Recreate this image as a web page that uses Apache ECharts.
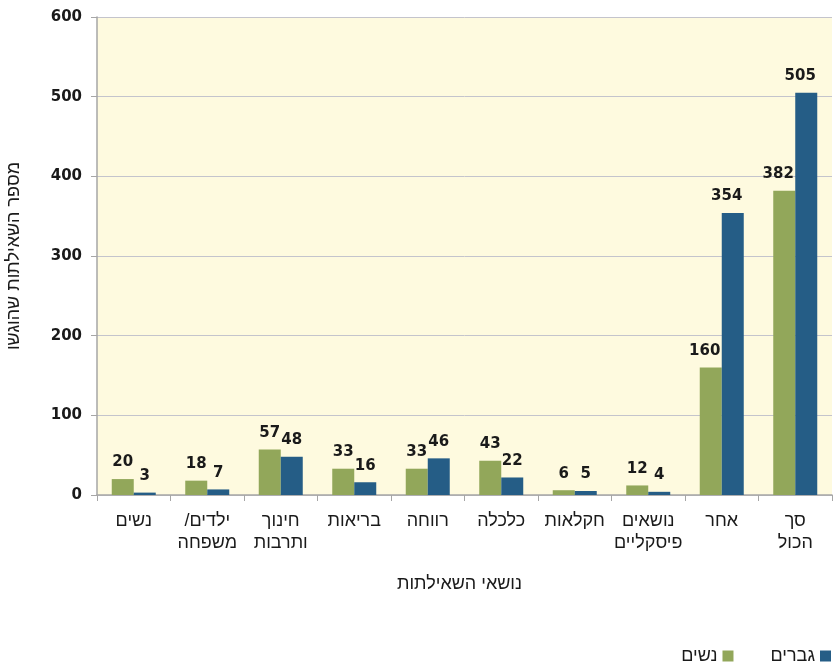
<!DOCTYPE html>
<html><head><meta charset="utf-8">
<script src="https://cdn.jsdelivr.net/npm/echarts@6/dist/echarts.min.js"></script>
<style>html,body{margin:0;padding:0;background:#fff}#c{width:833px;height:669px}</style>
</head><body><div id="c"></div>
<script>
const categories = ['נשים','/ילדים\nמשפחה','חינוך\nותרבות','בריאות','רווחה','כלכלה','חקלאות','נושאים\nפיסקליים','אחר','סך\nהכול'];
const women = [20,18,57,33,33,43,6,12,160,382];
const men = [3,7,48,16,46,22,5,4,354,505];
const yTicks = [0,100,200,300,400,500,600];
const HFONT = '"Liberation Sans",Arial,sans-serif';
const NFONT = '"DejaVu Sans",sans-serif';
const chart = echarts.init(document.getElementById('c'));
const lbl = {show:true,position:'top',distance:9,fontFamily:NFONT,fontSize:15,fontWeight:'bold',color:'#1a1a1a'};
const mk = arr => arr.map(v => v >= 100 ? {value:v,label:{offset:[-6,0]}} : v);
chart.setOption({
  animation:false,
  grid:{left:97,right:1,top:17,bottom:174,show:true,backgroundColor:'#fefadf',borderWidth:0,outerBoundsMode:'none',containLabel:false},
  legend:{data:['נשים','גברים'],right:2,bottom:4,padding:0,itemWidth:11,itemHeight:11,itemGap:37,align:'right',
    icon:'rect',textStyle:{fontFamily:HFONT,fontSize:18,color:'#1a1a1a'}},
  xAxis:{type:'category',data:categories,
    name:'נושאי השאילתות',nameLocation:'middle',nameGap:80,
    nameTextStyle:{fontFamily:HFONT,fontSize:18,color:'#1a1a1a',padding:[0,10,0,0]},
    axisLine:{lineStyle:{color:'#a6a6a6',width:1.5}},
    axisTick:{show:true,length:6,lineStyle:{color:'#a6a6a6'}},
    axisLabel:{interval:0,fontFamily:HFONT,fontSize:18,color:'#1a1a1a',margin:15,lineHeight:22}},
  yAxis:{type:'value',min:yTicks[0],max:yTicks[yTicks.length-1],interval:100,
    name:'מספר השאילתות שהוגשו',nameLocation:'middle',nameGap:74,nameRotate:90,
    nameTextStyle:{fontFamily:HFONT,fontSize:18,color:'#1a1a1a',padding:[0,0,0,0]},
    axisLine:{show:true,lineStyle:{color:'#a6a6a6',width:1.5}},
    axisTick:{show:true,length:6,lineStyle:{color:'#a6a6a6'}},
    splitLine:{lineStyle:{color:'#c4c4cc',width:1}},
    axisLabel:{fontFamily:NFONT,fontSize:15,fontWeight:'bold',color:'#1a1a1a',margin:15}},
  series:[
    {name:'נשים',type:'bar',data:mk(women),barWidth:22,barGap:'0%',itemStyle:{color:'#92a75a'},label:lbl},
    {name:'גברים',type:'bar',data:mk(men),barWidth:22,barGap:'0%',itemStyle:{color:'#255d86'},label:lbl}
  ]
});
</script></body></html>
